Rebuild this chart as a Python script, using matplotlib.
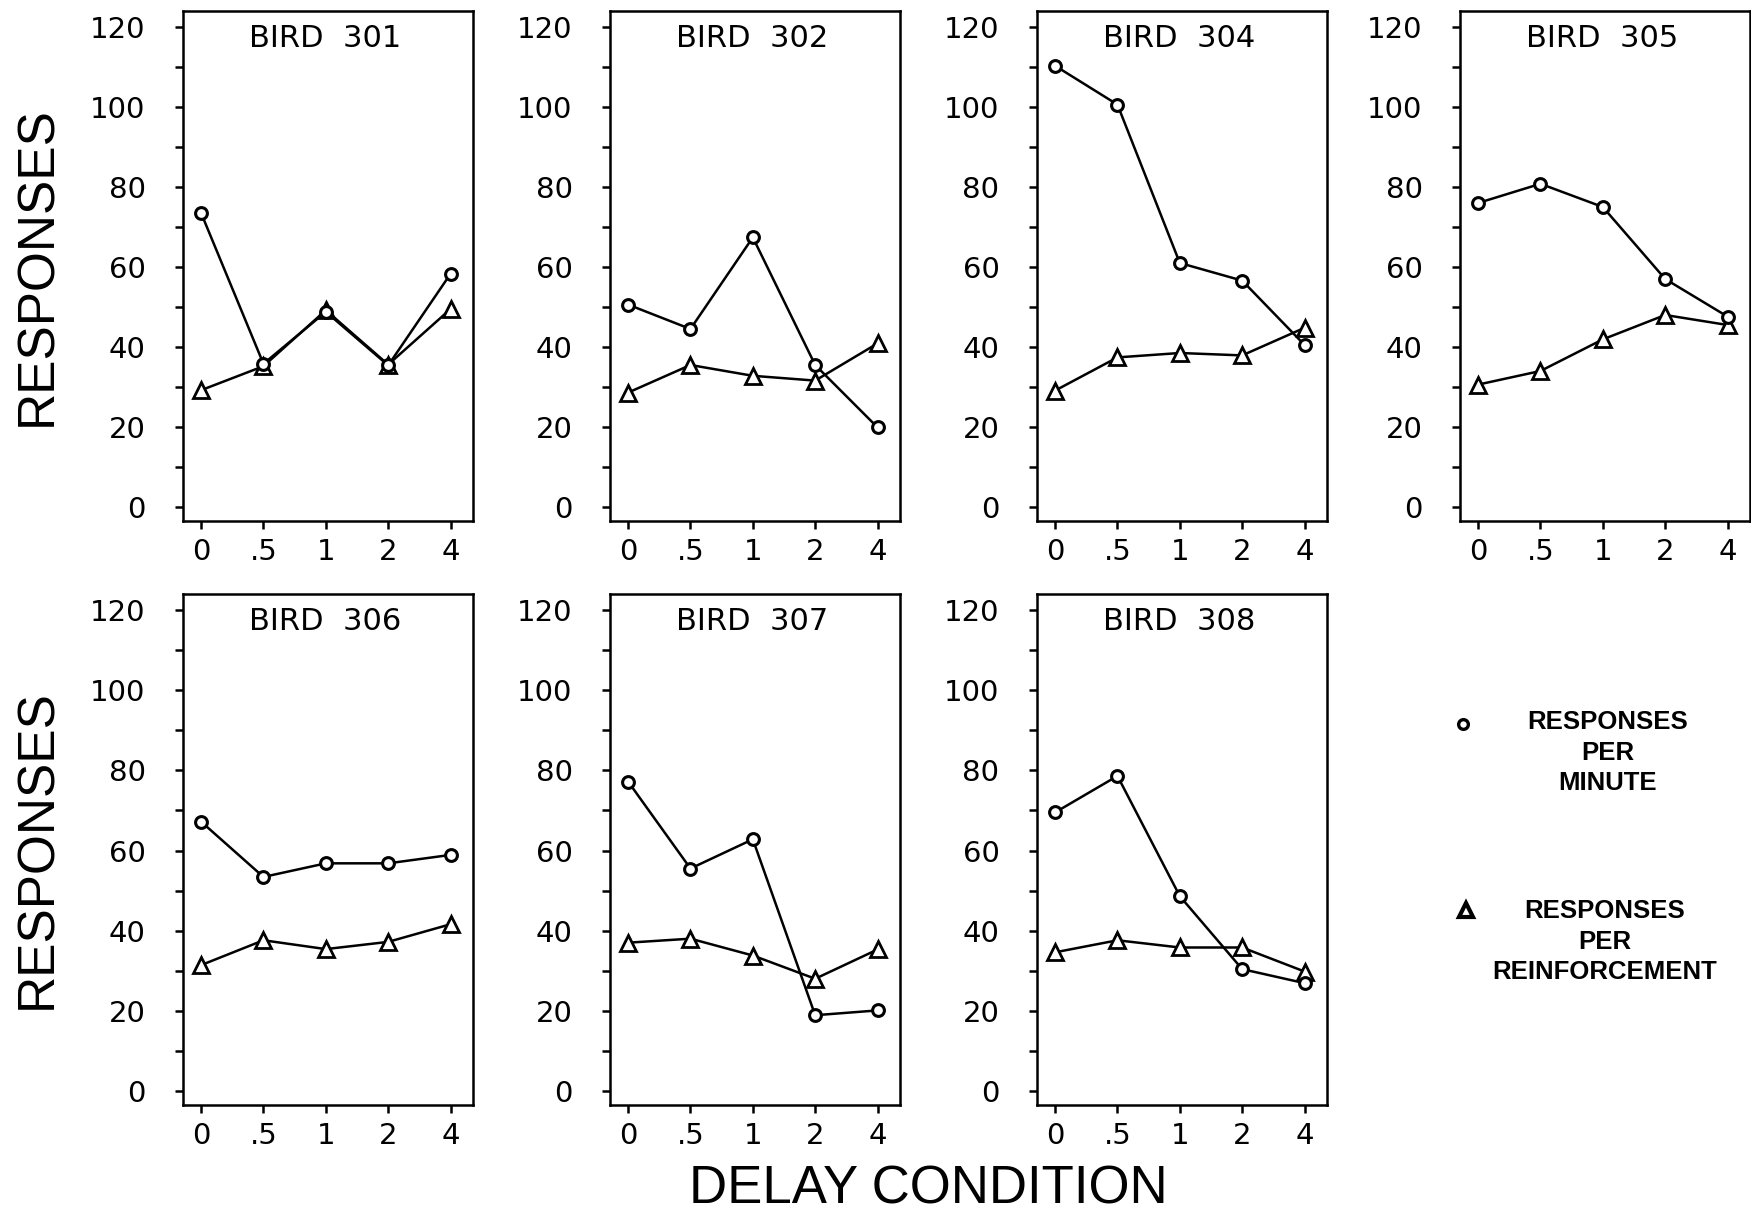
import matplotlib
matplotlib.use("Agg")
import matplotlib.pyplot as plt

delays = ['0', '.5', '1', '2', '4']
birds = ['301', '302', '304', '305', '306', '307', '308']

# responses per minute (circles)
rpm_301 = [73.5, 35.8, 48.8, 35.4, 58.3]
rpm_302 = [50.6, 44.5, 67.4, 35.5, 19.9]
rpm_304 = [110.3, 100.6, 61.0, 56.6, 40.5]
rpm_305 = [76.0, 80.8, 75.0, 57.0, 47.6]
rpm_306 = [67.2, 53.4, 56.8, 56.8, 58.9]
rpm_307 = [77.2, 55.5, 62.8, 18.9, 20.1]
rpm_308 = [69.5, 78.6, 48.6, 30.4, 26.9]

# responses per reinforcement (triangles)
rpr_301 = [29.2, 35.2, 49.2, 35.6, 49.5]
rpr_302 = [28.6, 35.5, 32.8, 31.6, 40.9]
rpr_304 = [29.1, 37.4, 38.5, 37.9, 44.8]
rpr_305 = [30.6, 34.0, 41.9, 48.0, 45.5]
rpr_306 = [31.4, 37.6, 35.4, 37.2, 41.6]
rpr_307 = [37.0, 38.0, 33.8, 28.0, 35.3]
rpr_308 = [34.6, 37.6, 35.8, 35.8, 29.8]

rpm = [rpm_301, rpm_302, rpm_304, rpm_305, rpm_306, rpm_307, rpm_308]
rpr = [rpr_301, rpr_302, rpr_304, rpr_305, rpr_306, rpr_307, rpr_308]

W, H = 1751, 1213
fig = plt.figure(figsize=(W / 100, H / 100), dpi=100)

lefts = [183, 610, 1037, 1460]
pw = 290
rows = [(11, 521), (594, 1105)]

yticks = list(range(0, 130, 10))
ylabels = [str(v) if v % 20 == 0 else '' for v in yticks]
tick_font = dict(family='DejaVu Sans', size=21)

for i, bird in enumerate(birds):
    r, c = divmod(i, 4)
    top, bot = rows[r]
    ax = fig.add_axes([lefts[c] / W, 1 - bot / H, pw / W, (bot - top) / H])
    x = range(len(delays))
    ax.plot(x, rpr[i], color='black', lw=1.8, marker='^', ms=12,
            mfc='white', mec='black', mew=2.0, zorder=3)
    ax.plot(x, rpm[i], color='black', lw=1.8, marker='o', ms=8.5,
            mfc='white', mec='black', mew=2.2, zorder=4)
    ax.set_xlim(-0.29, 4.36)
    ax.set_ylim(-3.5, 124)
    ax.set_xticks(list(x))
    ax.set_xticklabels(delays, fontdict=tick_font)
    ax.set_yticks(yticks)
    ax.set_yticklabels(ylabels, fontdict=tick_font)
    ax.tick_params(axis='y', direction='out', length=6, width=1.8, pad=21)
    ax.tick_params(axis='x', direction='out', length=6, width=1.8, pad=6)
    for s in ax.spines.values():
        s.set_linewidth(1.8)
    ax.text(0.49, 0.975, 'BIRD  ' + bird, transform=ax.transAxes,
            ha='center', va='top', fontsize=22, family='DejaVu Sans')
    if c == 0:
        ax.set_ylabel('RESPONSES', fontsize=37, family='Liberation Sans')
        ax.yaxis.set_label_coords(-0.415, 0.5)

fig.text(928 / W, 1 - 1189 / H, 'DELAY CONDITION', ha='center', va='center',
         fontsize=38, family='Liberation Sans')

# legend
lax = fig.add_axes([0, 0, 1, 1])
lax.set_xlim(0, W)
lax.set_ylim(H, 0)
lax.axis('off')
lax.plot([1463], [724], marker='o', ms=7, mfc='white', mec='black', mew=2.4,
         ls='none')
lax.plot([1466], [910], marker='^', ms=10, mfc='white', mec='black', mew=3.0,
         ls='none')
fig.text(1608 / W, 1 - 710 / H, 'RESPONSES\nPER\nMINUTE', ha='center',
         va='top', ma='center', fontsize=18.5, fontweight='bold',
         family='Liberation Sans', linespacing=1.35)
fig.text(1605 / W, 1 - 899 / H, 'RESPONSES\nPER\nREINFORCEMENT', ha='center',
         va='top', ma='center', fontsize=18.5, fontweight='bold',
         family='Liberation Sans', linespacing=1.35)

fig.savefig('out.png', dpi=100, facecolor='white')
